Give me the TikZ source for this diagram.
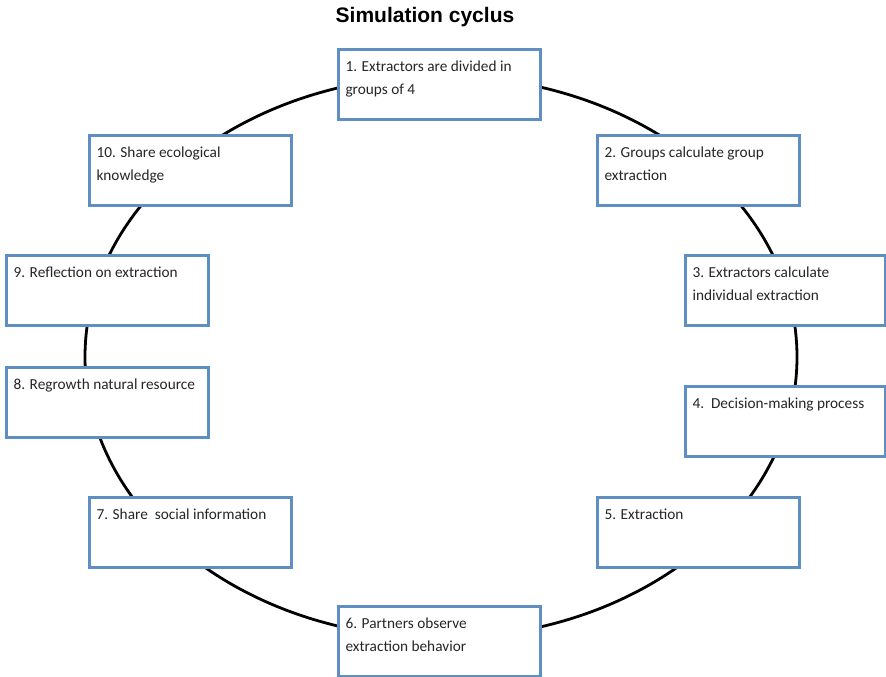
\documentclass[tikz,border=0pt]{standalone}
\usepackage{fontspec}
\setmainfont{Carlito}
\newfontfamily\titlefont{Liberation Sans}
\definecolor{boxblue}{HTML}{5F8EC2}
\newcommand{\stagetext}[2][188pt]{\parbox[b][58pt][t]{#1}{\fontsize{15.3pt}{23pt}\selectfont\color{black!85}\strut #2}}
\tikzset{
  stagebox/.style={draw=boxblue, line width=3pt, fill=white, anchor=north west,
    inner xsep=7pt, inner ysep=6pt, align=left},
  cycleline/.style={draw=black, line width=2.8pt}
}
\begin{document}
\begin{tikzpicture}[x=1pt,y=1pt]
\useasboundingbox (0,0) rectangle (886,-677);
\fill[white] (0,0) rectangle (886,-677);
\node[font=\titlefont\bfseries\fontsize{21pt}{24pt}\selectfont] (title) at (425,-17) {Simulation cyclus};
\draw[cycleline] (441,-357) ellipse [x radius=356, y radius=281];
\node[stagebox] (s1) at (337,-48) {\stagetext{1. Extractors are divided in\\groups of 4}};
\node[stagebox] (s2) at (596,-134) {\stagetext{2. Groups calculate group\\extraction}};
\node[stagebox] (s3) at (684,-254) {\stagetext[186pt]{3. Extractors calculate\\individual extraction}};
\node[stagebox] (s4) at (684,-385) {\stagetext[186pt]{4.\ \ Decision-making process}};
\node[stagebox] (s5) at (596,-496) {\stagetext{5. Extraction}};
\node[stagebox] (s6) at (337,-605) {\stagetext{6. Partners observe\\extraction behavior}};
\node[stagebox] (s7) at (88,-496) {\stagetext{7. Share\ \ social information}};
\node[stagebox] (s8) at (5,-366) {\stagetext{8. Regrowth natural resource}};
\node[stagebox] (s9) at (5,-254) {\stagetext{9. Reflection on extraction}};
\node[stagebox] (s10) at (88,-134) {\stagetext{10. Share ecological\\knowledge}};
\end{tikzpicture}
\end{document}
